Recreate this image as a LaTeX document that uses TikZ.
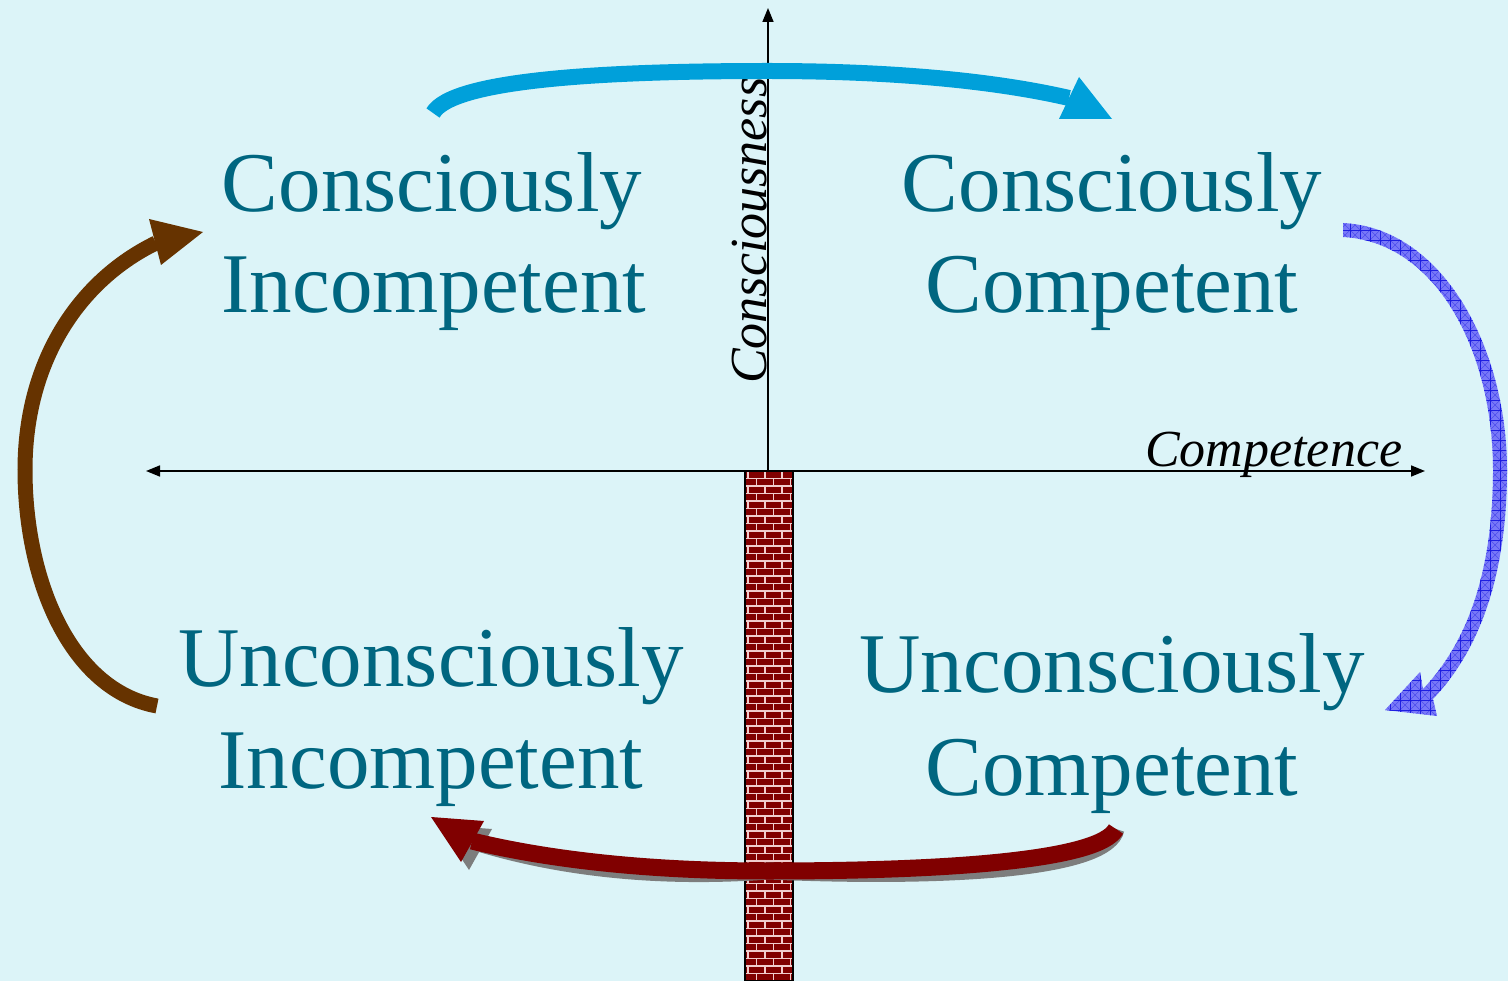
\documentclass[tikz,border=0pt]{standalone}
\usepackage{fontspec}
\setmainfont{Liberation Serif}
\usetikzlibrary{arrows.meta}
\definecolor{bgc}{RGB}{220,244,248}
\definecolor{teal}{RGB}{0,102,128}
\definecolor{topblue}{RGB}{0,160,218}
\definecolor{hatchbase}{RGB}{120,120,248}
\definecolor{hatchline}{RGB}{30,30,225}
\definecolor{brown}{RGB}{102,51,0}
\definecolor{darkred}{RGB}{128,0,0}
\definecolor{mortar}{RGB}{240,205,205}
\definecolor{shadowgray}{RGB}{125,125,125}
\tikzset{
  lbl/.style={anchor=base, inner sep=0pt, text=teal, font=\fontsize{85}{100}\selectfont},
  axlbl/.style={inner sep=0pt, font=\fontsize{52}{60}\selectfont\itshape},
  axisline/.style={draw=black, line width=1.6pt},
  tip/.style={-{Triangle[length=14pt,width=11pt]}},
  mortarline/.style={draw=mortar, line width=1.3pt},
  hatch/.style={draw=hatchline, line width=0.8pt},
  finehatch/.style={draw=hatchline, line width=0.35pt, opacity=0.6},
}
\begin{document}
\begin{tikzpicture}[x=1pt,y=-1pt]
\fill[bgc] (0,0) rectangle (1508,981);
\useasboundingbox (0,0) rectangle (1508,981);

% axes
\coordinate (O) at (768,471);
\coordinate (xl) at (146,471);
\coordinate (xr) at (1425,471);
\coordinate (yt) at (768,8);
\draw[axisline, {Triangle[length=14pt,width=11pt]}-{Triangle[length=14pt,width=11pt]}] (xl) -- (xr);
\draw[axisline, tip] (O) -- (yt);

% brick wall
\coordinate (w1) at (745,471);
\coordinate (w2) at (793,981);
\begin{scope}
  \clip (w1) rectangle (w2);
  \fill[darkred] (w1) rectangle (w2);
  \foreach \i in {0,...,68} {
    \pgfmathsetmacro\yy{471+7.5*\i}
    \pgfmathsetmacro\off{mod(\i,2)*8.5}
    \draw[mortarline] (745,\yy) -- (793,\yy);
    \foreach \k in {0,...,3} {
      \draw[mortarline] ({748+\off+17*\k},\yy) -- ++(0,7.5);
    }
  }
\end{scope}
\draw[black, line width=2pt] (w1) rectangle (w2);

% quadrant texts
\node[lbl] (ci1) at (432,212) {Consciously};
\node[lbl] (ci2) at (434,313) {Incompetent};
\node[lbl] (cc1) at (1112,212) {Consciously};
\node[lbl] (cc2) at (1112,313) {Competent};
\node[lbl] (ui1) at (431,686) {Unconsciously};
\node[lbl] (ui2) at (431,788) {Incompetent};
\node[lbl] (uc1) at (1112,692) {Unconsciously};
\node[lbl] (uc2) at (1112,795) {Competent};

% axis labels
\node[axlbl, anchor=base west] (comp) at (1145,467) {Competence};
\node[axlbl, anchor=base west, rotate=90] (consc) at (766,384) {Consciousness};

% top blue arrow
\coordinate (b0) at (433,113);
\coordinate (b1) at (768,71);
\coordinate (b2) at (1069,98);
\draw[topblue, line width=16pt, line cap=butt] (b0) .. controls (452,80) and (600,71) .. (b1) .. controls (900,71) and (1000,82) .. (b2);
\fill[topblue] (1079,77) -- (1112,119) -- (1059,119) -- cycle;

% right hatched arrow
\begin{scope}
  \clip (1343,223) .. controls (1443,228) and (1507,348) .. (1507,470)
        .. controls (1507,582) and (1476,654) .. (1433,699)
        -- (1437,716) -- (1385,710) -- (1420,672)
        -- (1423,689) .. controls (1464,646) and (1493,578) .. (1493,470)
        .. controls (1493,352) and (1437,242) .. (1343,237) -- cycle;
  \fill[hatchbase] (1330,210) rectangle (1508,730);
  \foreach \t in {0,...,18} {
    \draw[hatch] ({1330+10*\t},210) -- ({1330+10*\t},730);
  }
  \foreach \t in {0,...,52} {
    \draw[hatch] (1330,{210+10*\t}) -- (1508,{210+10*\t});
  }
  \foreach \t in {0,...,70} {
    \draw[finehatch] ({1330+10*\t-520},730) -- ({1330+10*\t},210);
    \draw[finehatch] ({1330+10*\t-520},210) -- ({1330+10*\t},730);
  }
\end{scope}

% left brown arrow
\coordinate (l0) at (157,706);
\coordinate (l1) at (25,470);
\coordinate (l2) at (156,243);
\draw[brown, line width=15pt, line cap=butt] (l0) .. controls (70,690) and (25,580) .. (l1) .. controls (25,360) and (80,280) .. (l2);
\fill[brown] (149,219) -- (203,232) -- (161,265) -- cycle;

% bottom red arrow with shadow
\coordinate (r0) at (1116,829);
\coordinate (r1) at (768,871);
\coordinate (r2) at (472,841);
\begin{scope}[shift={(8,8)}]
  \draw[shadowgray, line width=17pt, line cap=butt] (r0) .. controls (1100,860) and (950,871) .. (r1) .. controls (650,871) and (550,860) .. (r2);
  \fill[shadowgray] (431,817) -- (484,821) -- (461,862) -- cycle;
\end{scope}
\draw[darkred, line width=17pt, line cap=butt] (r0) .. controls (1100,860) and (950,871) .. (r1) .. controls (650,871) and (550,860) .. (r2);
\fill[darkred] (431,817) -- (484,821) -- (461,862) -- cycle;
\end{tikzpicture}
\end{document}
